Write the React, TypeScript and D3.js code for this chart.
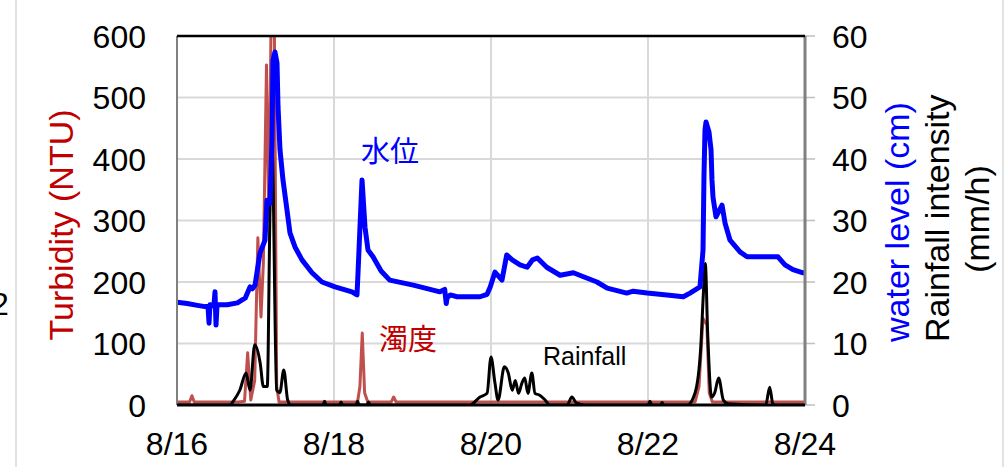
import * as d3 from "d3";

// time in days from 8/16 00:00
const dateTicks = [0, 2, 4, 6, 8];
const dateLabels = ["8/16", "8/18", "8/20", "8/22", "8/24"];
const turbTicks = [0, 100, 200, 300, 400, 500, 600];
const rightTicks = [0, 10, 20, 30, 40, 50, 60];

// water level (cm), right axis
const waterLevel: [number, number][] = [
  [0, 16.7], [0.13, 16.5], [0.26, 16.2], [0.357, 16], [0.395, 16], [0.408, 13.3], [0.42, 16.3],
  [0.47, 16.1], [0.484, 18.4], [0.497, 13], [0.51, 16.3], [0.64, 16.3], [0.77, 16.6], [0.87, 17.4],
  [0.93, 19.2], [0.96, 18.9], [0.994, 19.5], [1.057, 24.7], [1.121, 26.8], [1.146, 33.3],
  [1.185, 32.8], [1.21, 43.1], [1.223, 56.1], [1.248, 57.4], [1.274, 55.6], [1.287, 48.5],
  [1.312, 41.5], [1.35, 36.6], [1.401, 31.7], [1.439, 28], [1.503, 25.7], [1.592, 23.6],
  [1.72, 21.5], [1.847, 20], [2.013, 19.2], [2.229, 18.4], [2.293, 17.9], [2.306, 21.5],
  [2.357, 36.6], [2.395, 28.9], [2.433, 25.2], [2.497, 24.1], [2.6, 21.8], [2.71, 20.3],
  [3.01, 19.5], [3.35, 18.4], [3.41, 18.8], [3.43, 16.5], [3.44, 17.4], [3.48, 17.9], [3.57, 17.6],
  [3.86, 17.6], [3.95, 18], [3.99, 19.2], [4.05, 21.6], [4.14, 20.3], [4.2, 24.4], [4.27, 23.6],
  [4.37, 22.8], [4.46, 22.4], [4.53, 23.6], [4.59, 23.9], [4.71, 22.4], [4.88, 21.1], [5.05, 21.5],
  [5.17, 20.9], [5.35, 20], [5.48, 19], [5.73, 18.2], [5.81, 18.5], [5.99, 18.2], [6.24, 17.9],
  [6.45, 17.6], [6.535, 18.2], [6.662, 19.2], [6.701, 25.2], [6.713, 37.1], [6.726, 44.7],
  [6.739, 46], [6.777, 44.4], [6.803, 41.5], [6.815, 36.6], [6.828, 33.8], [6.866, 30.6],
  [6.943, 32.5], [6.981, 29.6], [7.045, 26.8], [7.172, 24.9], [7.261, 24.1], [7.656, 24.1],
  [7.745, 22.8], [7.847, 22], [7.975, 21.5], [8, 21.5],
];

// turbidity (NTU), left axis
const turbidity: [number, number][] = [
  [0, 5], [0.16, 5], [0.19, 15], [0.22, 5], [0.78, 5], [0.86, 6], [0.9, 85], [0.94, 8],
  [0.99, 40], [1.03, 272], [1.07, 143], [1.1, 230], [1.14, 553], [1.17, 300], [1.2, 640],
  [1.24, 620], [1.27, 30], [1.3, 5], [2.3, 5], [2.33, 30], [2.36, 117], [2.39, 20], [2.43, 5],
  [2.73, 5], [2.76, 13], [2.79, 5], [6.6, 5], [6.65, 30], [6.7, 141], [6.75, 130], [6.78, 20],
  [6.82, 5], [8, 5],
];

// rainfall intensity (mm/h), right axis
const rainfall: [number, number][] = [
  [0, 0], [0.68, 0], [0.71, 0.5], [0.8, 2.4], [0.88, 5.2], [0.93, 2.4], [0.99, 9.8], [1.06, 6.8],
  [1.1, 3], [1.15, 3], [1.185, 31.7], [1.21, 42], [1.27, 2.4], [1.31, 2], [1.36, 5.7], [1.41, 0.8],
  [1.45, 0], [1.86, 0], [1.88, 0.6], [1.9, 0], [2.07, 0], [2.09, 0.5], [2.11, 0], [2.28, 0],
  [2.3, 0.6], [2.32, 0], [2.42, 0], [2.44, 0.5], [2.46, 0], [3.73, 0], [3.86, 1.3], [3.95, 1.9],
  [4.0, 7.8], [4.05, 3.6], [4.09, 0.8], [4.17, 6.2], [4.22, 5.2], [4.27, 2.4], [4.31, 4],
  [4.35, 1.9], [4.395, 3.6], [4.43, 4.4], [4.47, 1.9], [4.52, 5.2], [4.56, 1.9], [4.62, 1.6],
  [4.69, 0.8], [4.75, 0], [4.97, 0], [5.03, 1.3], [5.09, 0.3], [5.2, 0], [6.0, 0], [6.025, 0.6],
  [6.05, 0], [6.16, 0], [6.18, 0.4], [6.2, 0], [6.5, 0], [6.6, 2], [6.67, 9], [6.71, 19.2],
  [6.73, 23], [6.76, 11.7], [6.81, 1.3], [6.85, 2], [6.9, 4.4], [6.96, 0.8], [7.02, 0.2],
  [7.5, 0], [7.55, 2.9], [7.59, 0.2], [7.62, 0], [8, 0],
];

const W = 1007;
const H = 467;
const plot = { left: 177, right: 805, top: 36, bottom: 405 };
const font = "'Liberation Sans', Arial, sans-serif";
const cjk = "'Noto Sans CJK JP', sans-serif";

export default function App() {
  const x = d3.scaleLinear().domain([0, 8]).range([plot.left, plot.right]);
  const yL = d3.scaleLinear().domain([0, 600]).range([plot.bottom, plot.top]);
  const yR = d3.scaleLinear().domain([0, 60]).range([plot.bottom, plot.top]);

  const levelLine = d3.line<[number, number]>().x((d) => x(d[0])).y((d) => yR(d[1]));
  const turbLine = d3.line<[number, number]>().x((d) => x(d[0])).y((d) => yL(d[1]));
  const rainLine = d3
    .line<[number, number]>()
    .x((d) => x(d[0]))
    .y((d) => yR(d[1]))
    .curve(d3.curveMonotoneX);

  return (
    <svg
      width={W}
      height={H}
      style={{ position: "absolute", left: 0, top: 0, background: "#fff" }}
    >
      <defs>
        <clipPath id="plotclip">
          <rect x={plot.left} y={plot.top} width={plot.right - plot.left} height={plot.bottom - plot.top} />
        </clipPath>
      </defs>

      {/* stray bits from the neighbouring figure */}
      <line x1={16} x2={16} y1={0} y2={H} stroke="#d9d9d9" strokeWidth={1.5} />
      <line x1={1003} x2={1003} y1={0} y2={H} stroke="#d9d9d9" strokeWidth={1.5} />
      <text x={-9} y={315} fontFamily={font} fontSize={32}>2</text>

      {/* gridlines */}
      {turbTicks.slice(1, -1).map((t) => (
        <line key={"h" + t} x1={plot.left} x2={plot.right} y1={yL(t)} y2={yL(t)} stroke="#d9d9d9" strokeWidth={2} />
      ))}
      {dateTicks.slice(1, -1).map((t) => (
        <line key={"v" + t} x1={x(t)} x2={x(t)} y1={plot.top} y2={plot.bottom} stroke="#d9d9d9" strokeWidth={2} />
      ))}

      {/* right ticks */}
      {rightTicks.map((t) => (
        <line key={"rt" + t} x1={plot.right} x2={plot.right + 10} y1={yR(t)} y2={yR(t)} stroke="#bfbfbf" strokeWidth={1.5} />
      ))}

      <g clipPath="url(#plotclip)">
        <path d={turbLine(turbidity) || ""} fill="none" stroke="#c0504d" strokeWidth={3} strokeLinejoin="round" />
        <path d={rainLine(rainfall) || ""} fill="none" stroke="#000" strokeWidth={3} strokeLinejoin="round" />
        <path d={levelLine(waterLevel) || ""} fill="none" stroke="#0000ff" strokeWidth={5} strokeLinejoin="round" />
      </g>

      {/* frame */}
      <line x1={plot.left} x2={plot.left} y1={plot.top} y2={plot.bottom} stroke="#808080" strokeWidth={2} />
      <line x1={plot.right} x2={plot.right} y1={plot.top} y2={plot.bottom} stroke="#808080" strokeWidth={3} />
      <line x1={plot.left} x2={plot.right} y1={plot.top} y2={plot.top} stroke="#000" strokeWidth={2.5} />
      <line x1={plot.left} x2={plot.right} y1={plot.bottom} y2={plot.bottom} stroke="#000" strokeWidth={3} />

      {/* left axis labels */}
      {turbTicks.map((t) => (
        <text key={"lt" + t} x={146} y={yL(t) + 11.5} textAnchor="end" fontFamily={font} fontSize={32} fill="#000">
          {t}
        </text>
      ))}
      {/* right axis labels */}
      {rightTicks.map((t) => (
        <text key={"rl" + t} x={832} y={yR(t) + 11.5} textAnchor="start" fontFamily={font} fontSize={32} fill="#000">
          {t}
        </text>
      ))}
      {/* date labels */}
      {dateTicks.map((t, i) => (
        <text key={"d" + t} x={x(t)} y={455} textAnchor="middle" fontFamily={font} fontSize={32} fill="#000">
          {dateLabels[i]}
        </text>
      ))}

      {/* axis titles */}
      <text transform="translate(73,225) rotate(-90)" textAnchor="middle" fontFamily={font} fontSize={34} fill="#c00000">
        Turbidity (NTU)
      </text>
      <text transform="translate(909,342) rotate(-90)" textAnchor="start" fontFamily={font} fontSize={34} fill="#0000ff">
        water level (cm)
      </text>
      <text transform="translate(949,342) rotate(-90)" textAnchor="start" fontFamily={font} fontSize={34} fill="#000">
        Rainfall intensity
      </text>
      <text transform="translate(989,219) rotate(-90)" textAnchor="middle" fontFamily={font} fontSize={34} fill="#000">
        (mm/h)
      </text>

      {/* series labels */}
      <text x={361} y={162} fontFamily={cjk} fontSize={29} fill="#0000ff">水位</text>
      <text x={379} y={350} fontFamily={cjk} fontSize={29} fill="#c00000">濁度</text>
      <text x={543} y={365} fontFamily={font} fontSize={25} fill="#000">Rainfall</text>
    </svg>
  );
}
